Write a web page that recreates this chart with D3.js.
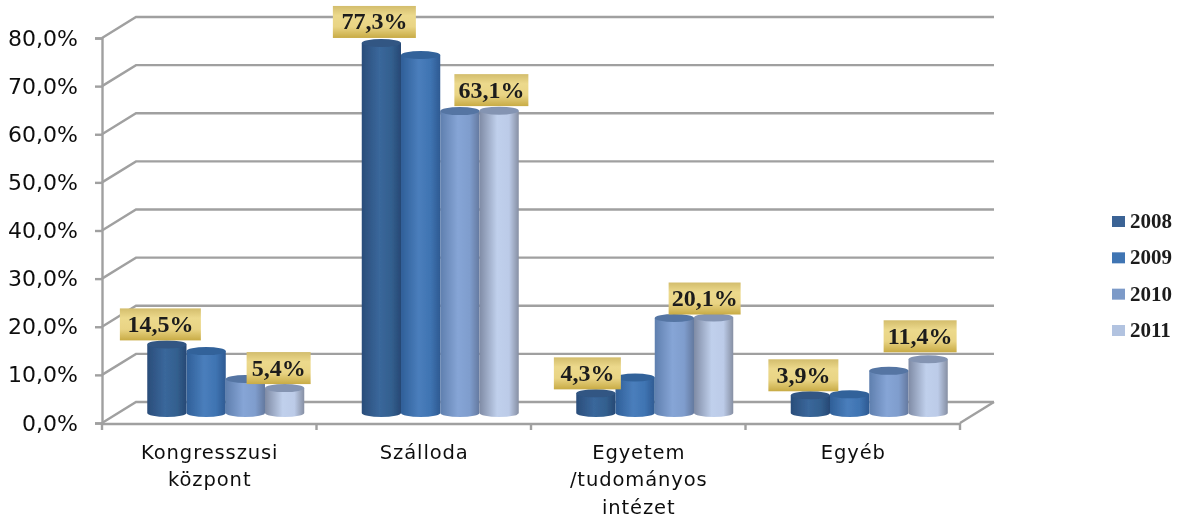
<!DOCTYPE html>
<html><head><meta charset="utf-8">
<script src="https://cdn.jsdelivr.net/npm/d3@7/dist/d3.min.js"></script>
<style>html,body{margin:0;padding:0;background:#fff}svg{display:block}</style>
</head><body><svg id="c" width="1183" height="518"></svg>
<script>
const categories = ["Kongresszusi központ","Szálloda","Egyetem /tudományos intézet","Egyéb"];
const categoryLines = [["Kongresszusi","központ"],["Szálloda"],["Egyetem","/tudományos","intézet"],["Egyéb"]];
const years = ["2008","2009","2010","2011"];
const v2008 = [14.5,77.3,4.3,3.9];
const v2009 = [13.1,74.8,7.6,4.1];
const v2010 = [7.3,63.1,20.0,9.0];
const v2011 = [5.4,63.2,20.1,11.4];
const yTicks = [0,10,20,30,40,50,60,70,80];
const seriesValues = [v2008,v2009,v2010,v2011];

const svg = d3.select("#c");
const W=102,E=960,DX=34,DY=-21;
const y = d3.scaleLinear().domain([0,80]).range([423,38]);
const yBar = d3.scaleLinear().domain([0,80]).range([414,30]);
const x0 = d3.scaleBand().domain(categories).range([W,E]);
const x1 = d3.scaleBand().domain(years).range([-78.5,78.5]);
const baseY = 413, ry=4;
const grid="#a0a0a0";

const defs = svg.append("defs");
const root = svg.append("g");
defs.append("filter").attr("id","soft").attr("x","-5%").attr("y","-5%").attr("width","110%").attr("height","110%")
  .append("feGaussianBlur").attr("stdDeviation",0.6);
root.attr("filter","url(#soft)");

const ramps = {
 "2008":["#2a4d7a","#3a679b","#33608f","#274874"],
 "2009":["#2f5f98","#4a7ebc","#3f74b2","#2e5a92"],
 "2010":["#5f7fae","#86a5d6","#7f9dcd","#64799f"],
 "2011":["#7f8ba5","#c0d0ec","#bccbe8","#868fa3"]};
const tops = {"2008":"#305683","2009":"#32629a","2010":"#5475a3","2011":"#8494b2"};
const swatch = {"2008":"#3b6495","2009":"#4174b3","2010":"#7c9ac8","2011":"#b2c3e0"};
years.forEach(k=>{
  const g=defs.append("linearGradient").attr("id","g"+k);
  [0,.45,.75,1].forEach((o,i)=>g.append("stop").attr("offset",o).attr("stop-color",ramps[k][i]));
});
const gold=defs.append("linearGradient").attr("id","gold").attr("x2",0).attr("y2",1);
[[0,"#d3bd6c"],[.3,"#ecd98c"],[.65,"#e9d484"],[1,"#c8ab45"]].forEach(s=>gold.append("stop").attr("offset",s[0]).attr("stop-color",s[1]));

// walls
const gridG=root.append("g").attr("fill","none").attr("stroke",grid).attr("stroke-width",2.4);
yTicks.forEach(t=>{
  gridG.append("path").attr("d",d3.line()([[W,y(t)],[W+DX,y(t)+DY],[E+DX,y(t)+DY]]));
});
gridG.append("path").attr("d",d3.line()([[E,y(0)],[E+DX,y(0)+DY]]));

// axes
const axisY=root.append("g").attr("transform",`translate(${W},0)`)
  .call(d3.axisLeft(y).tickValues(yTicks).tickSize(7).tickPadding(17).tickFormat(d=>d3.format(".1f")(d).replace(".",",")+"%"));
axisY.select(".domain").attr("stroke",grid).attr("stroke-width",2.4);
axisY.selectAll(".tick line").attr("stroke",grid).attr("stroke-width",2.4);
axisY.selectAll("text").attr("font-family","DejaVu Sans").attr("font-size",22).attr("fill","#111").attr("x",-24);

const boundaries = categories.map(c=>x0(c)).concat([E]);
const xLine=root.append("g").attr("stroke",grid).attr("stroke-width",2.4);
xLine.append("line").attr("x1",W-1).attr("x2",E).attr("y1",y(0)+1).attr("y2",y(0)+1);
boundaries.forEach(b=>xLine.append("line").attr("x1",b).attr("x2",b).attr("y1",y(0)).attr("y2",y(0)+7));

// category labels
const catLine=[452,479.5,507];
categories.forEach((c,i)=>{
  categoryLines[i].forEach((l,j)=>{
    root.append("text").attr("x",x0(c)+x0.bandwidth()/2+0.5).attr("y",catLine[j]+6.5)
      .attr("text-anchor","middle").attr("font-family","DejaVu Sans").attr("font-size",19.5).attr("letter-spacing",0.9).attr("fill","#111").text(l);
  });
});

// cylinders
const barW=x1.bandwidth(), rx=barW/2;
categories.forEach((c,ci)=>{
  const cx0=x0(c)+x0.bandwidth()/2+16.5;
  years.forEach((k,si)=>{
    const v=seriesValues[si][ci];
    const L=cx0+x1(k), R=L+barW, T=yBar(v);
    root.append("path").attr("fill",`url(#g${k})`)
      .attr("d",`M${L},${T}L${L},${baseY}A${rx},${ry} 0 0 0 ${R},${baseY}L${R},${T}Z`);
    root.append("ellipse").attr("cx",L+rx).attr("cy",T).attr("rx",rx).attr("ry",ry).attr("fill",tops[k]);
  });
});

// data labels: [category index, series index, box centre offset from bar, gap to bar top, width]
const labelSpec=[[0,0,-6.5,4,81],[0,3,-6,4,64],[1,0,-7,5,83],[1,2,31.5,5,74],[2,0,-8.5,4,67],[2,3,-9,3,72],[3,0,-7,4,70],[3,3,-8,7,73]];
labelSpec.forEach(([ci,si,dx,gap,w])=>{
  const c=categories[ci],k=years[si],v=seriesValues[si][ci];
  const cx=x0(c)+x0.bandwidth()/2+16.5+x1(k)+barW/2+dx;
  const bottom=yBar(v)-gap, h=32;
  root.append("rect").attr("x",cx-w/2).attr("y",bottom-h).attr("width",w).attr("height",h).attr("fill","url(#gold)");
  root.append("text").attr("x",cx).attr("y",bottom-h/2+7.5).attr("text-anchor","middle")
    .attr("font-family","Liberation Serif").attr("font-weight","bold").attr("font-size",24).attr("fill","#1a1a1a")
    .text(d3.format(".1f")(v).replace(".",",")+"%");
});

// legend
const legY=d3.scalePoint().domain(years).range([221,330]);
years.forEach(k=>{
  root.append("rect").attr("x",1112).attr("y",legY(k)-5).attr("width",13).attr("height",11).attr("fill",swatch[k]);
  root.append("text").attr("x",1130).attr("y",legY(k)+7).attr("font-family","Liberation Serif").attr("font-weight","bold").attr("font-size",21).attr("fill","#1c1c1c").text(k);
});
</script></body></html>
